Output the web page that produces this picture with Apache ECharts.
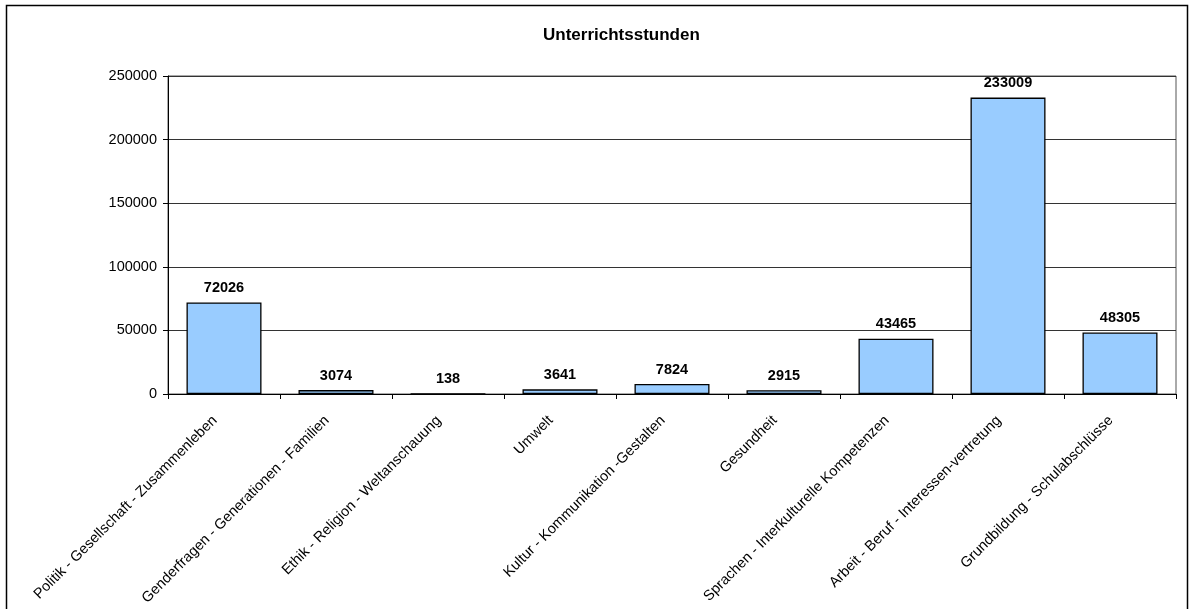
<!DOCTYPE html>
<html><head><meta charset="utf-8">
<script src="https://cdn.jsdelivr.net/npm/echarts@6/dist/echarts.min.js"></script>
<style>html,body{margin:0;padding:0;background:#fff}#c{width:1191px;height:609px}</style>
</head><body><div id="c"></div>
<script>
const categories = [
  "Politik - Gesellschaft - Zusammenleben",
  "Genderfragen - Generationen - Familien",
  "Ethik - Religion - Weltanschauung",
  "Umwelt",
  "Kultur - Kommunikation -Gestalten",
  "Gesundheit",
  "Sprachen - Interkulturelle Kompetenzen",
  "Arbeit - Beruf - Interessen-vertretung",
  "Grundbildung - Schulabschlüsse"
];
const values = [72026, 3074, 138, 3641, 7824, 2915, 43465, 233009, 48305];
const yTicks = [0, 50000, 100000, 150000, 200000, 250000];

const chart = echarts.init(document.getElementById('c'));
const font = '"Liberation Sans", Arial, sans-serif';
chart.setOption({
  animation: false,
  title: {
    text: 'Unterrichtsstunden', left: 538, top: 22,
    textStyle: {fontFamily: font, fontSize: 17, fontWeight: 'bold', color: '#000'}
  },
  graphic: [{
    type: 'rect', shape: {x: 6.5, y: 5.5, width: 1181, height: 640},
    style: {fill: 'none', stroke: '#000', lineWidth: 1.5}, silent: true
  }],
  grid: {left: 168, right: 15, top: 76, bottom: 215, show: true, borderColor: '#555', borderWidth: 1, backgroundColor: '#fff'},
  xAxis: {
    type: 'category', data: categories,
    axisLine: {lineStyle: {color: '#000', width: 1}},
    axisTick: {show: true, inside: false, length: 5, alignWithLabel: false, lineStyle: {color: '#000'}},
    axisLabel: {rotate: 45, interval: 0, fontFamily: font, fontSize: 14.5, color: '#000', margin: 15, padding: [0, 13, 0, 0]}
  },
  yAxis: {
    type: 'value', min: 0, max: yTicks[yTicks.length-1], interval: 50000,
    axisLine: {show: true, lineStyle: {color: '#000', width: 1}},
    axisTick: {show: true, length: 5, lineStyle: {color: '#000'}},
    axisLabel: {fontFamily: font, fontSize: 14.5, color: '#000', margin: 11, formatter: v => String(v)},
    splitLine: {show: true, lineStyle: {color: '#333', width: 1}}
  },
  series: [{
    type: 'bar', data: values, barWidth: 75,
    itemStyle: {color: '#99CCFF', borderColor: '#000', borderWidth: 1.3},
    label: {show: true, position: 'top', distance: 7, fontFamily: font, fontSize: 14.5, fontWeight: 'bold', color: '#000'}
  }]
});
</script></body></html>
